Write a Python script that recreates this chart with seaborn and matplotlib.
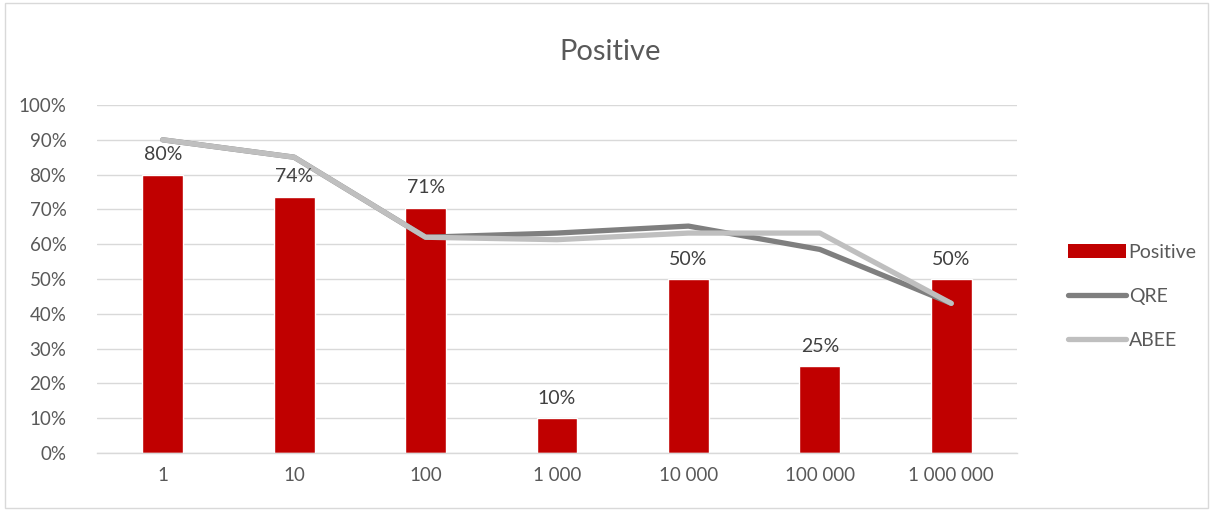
import matplotlib
matplotlib.use("Agg")
import matplotlib.pyplot as plt
from matplotlib.lines import Line2D
from matplotlib.patches import Patch, Rectangle
from matplotlib.ticker import PercentFormatter
import seaborn as sns
import pandas as pd

categories = ["1", "10", "100", "1 000", "10 000", "100 000", "1 000 000"]
positive = [0.80, 0.736, 0.705, 0.10, 0.50, 0.25, 0.50]
positive_labels = ["80%", "74%", "71%", "10%", "50%", "25%", "50%"]
qre = [0.90, 0.85, 0.62, 0.632, 0.652, 0.585, 0.43]
abee = [0.90, 0.85, 0.62, 0.613, 0.632, 0.632, 0.43]

sns.set_theme(style="white")
plt.rcParams["font.family"] = ["Lato", "DejaVu Sans"]

fig = plt.figure(figsize=(12.11, 5.11), dpi=100)
ax = fig.add_axes([97 / 1211, 1 - 453 / 511, 920 / 1211, 348 / 511])

df = pd.DataFrame({"cat": categories, "Positive": positive, "QRE": qre, "ABEE": abee})

sns.barplot(data=df, x="cat", y="Positive", color="#c00000", width=0.31,
            saturation=1, ax=ax, zorder=2)
x = list(range(len(categories)))
sns.lineplot(x=x, y=qre, color="#7f7f7f", linewidth=3.8, ax=ax, zorder=3,
             solid_capstyle="round", solid_joinstyle="round")
sns.lineplot(x=x, y=abee, color="#bfbfbf", linewidth=3.8, ax=ax, zorder=4,
             solid_capstyle="round", solid_joinstyle="round")

for xi, v, lab in zip(x, positive, positive_labels):
    ax.text(xi, v + 0.033, lab, ha="center", va="bottom", fontsize=14,
            color="#404040", zorder=5)

ax.set_xlim(-0.5, len(categories) - 0.5)
ax.set_ylim(0, 1.0)
ax.set_yticks([i / 10 for i in range(11)])
ax.yaxis.set_major_formatter(PercentFormatter(1.0, decimals=0))
ax.grid(axis="y", color="#d9d9d9", linewidth=1.0, zorder=0)
ax.set_axisbelow(True)
for s in ["top", "right", "left"]:
    ax.spines[s].set_visible(False)
ax.spines["bottom"].set_color("#d9d9d9")
ax.spines["bottom"].set_linewidth(1.0)
ax.tick_params(axis="both", length=0, labelsize=13.5, labelcolor="#595959")
ax.tick_params(axis="y", pad=22)
ax.tick_params(axis="x", pad=10)
ax.set_xlabel("")
ax.set_ylabel("")

fig.text(610 / 1211, 1 - 52 / 511, "Positive", ha="center", va="center",
         fontsize=21, color="#595959")

handles = [
    Patch(facecolor="#c00000", edgecolor="none"),
    Line2D([0], [0], color="#7f7f7f", linewidth=3.8, solid_capstyle="round"),
    Line2D([0], [0], color="#bfbfbf", linewidth=3.8, solid_capstyle="round"),
]
fig.legend(handles, ["Positive", "QRE", "ABEE"], loc="upper left",
           bbox_to_anchor=(1050 / 1211, 1 - 226 / 511), frameon=False,
           fontsize=14, labelcolor="#595959", handlelength=3.0,
           handleheight=0.75, handletextpad=0.15, labelspacing=1.4)

fig.patches.append(Rectangle((5 / 1211, 3 / 511), 1203 / 1211, 505 / 511,
                             transform=fig.transFigure, fill=False,
                             edgecolor="#d9d9d9", linewidth=1.0))

fig.savefig("out.png", dpi=100)
